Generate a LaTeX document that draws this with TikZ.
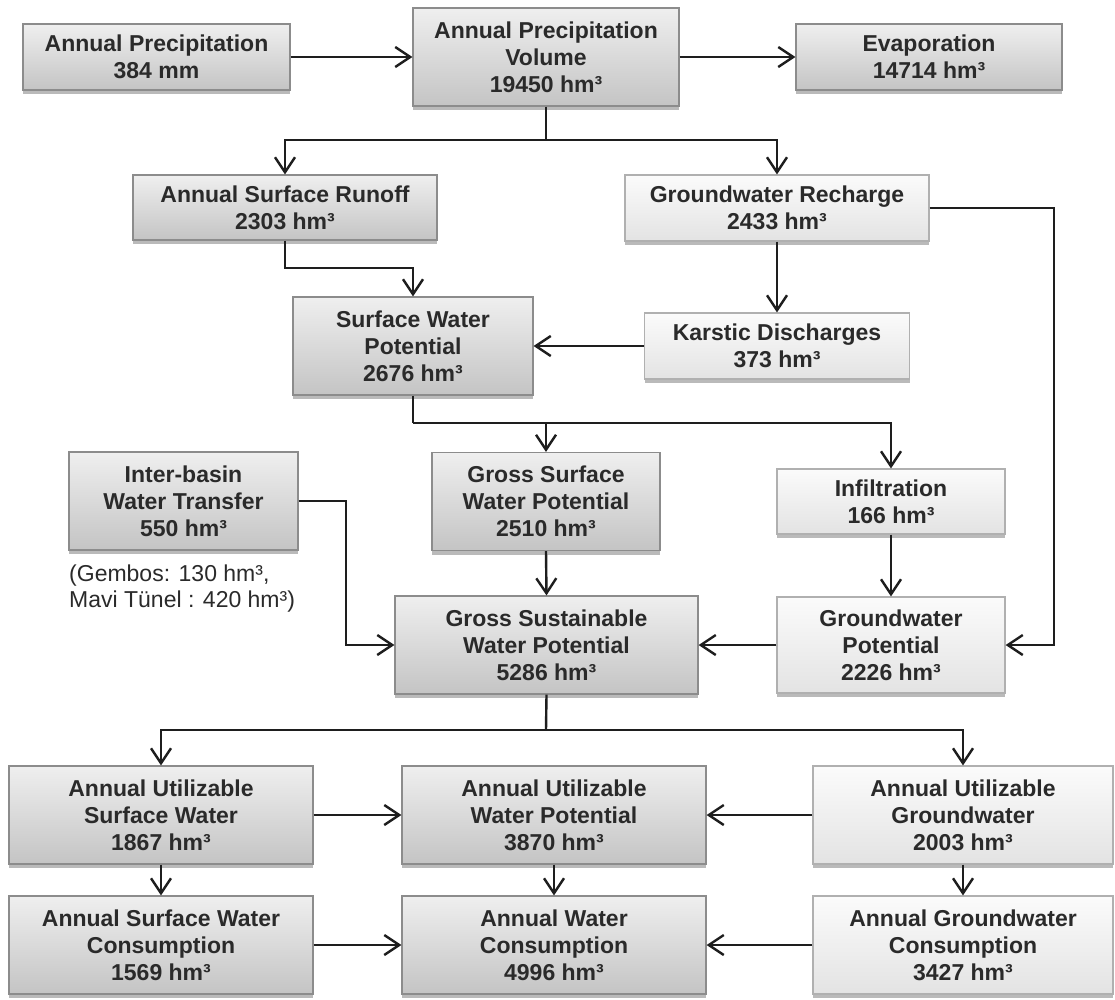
\documentclass[tikz,border=0pt]{standalone}
\usepackage{fontspec}
\setmainfont{Liberation Sans}
\usetikzlibrary{arrows.meta,shadows}
\definecolor{txt}{HTML}{2A2A2A}
\definecolor{dtop}{HTML}{EFEFEF}
\definecolor{dbot}{HTML}{C4C4C4}
\definecolor{ltop}{HTML}{FBFBFB}
\definecolor{lbot}{HTML}{E3E3E3}
\definecolor{dline}{HTML}{8C8C8C}
\definecolor{lline}{HTML}{B0B0B0}
\definecolor{lnk}{HTML}{1E1E1E}
\tikzset{
  basebox/.style={rectangle, inner sep=0pt, align=center, text=txt,
    font=\fontsize{23}{27}\selectfont\bfseries, line width=1.2pt,
    drop shadow={shadow xshift=0pt, shadow yshift=-4pt, fill=black!45, opacity=0.6}},
  dbox/.style={basebox, draw=dline, top color=dtop, bottom color=dbot},
  lbox/.style={basebox, draw=lline, top color=ltop, bottom color=lbot},
  arr/.style={draw=lnk, line width=2.4pt, -{Straight Barb[length=15pt,width=20pt]}},
  lin/.style={draw=lnk, line width=2.4pt},
}
\begin{document}
\begin{tikzpicture}[x=1pt,y=-1pt]
\useasboundingbox (0,0) rectangle (1115,999);
% top row
\node[dbox, minimum width=267pt, minimum height=66pt] (ap) at (156.5,57) {Annual Precipitation\\384 mm};
\node[dbox, minimum width=266pt, minimum height=98pt] (apv) at (546,57) {Annual Precipitation\\Volume\\19450 hm³};
\node[dbox, minimum width=266pt, minimum height=66pt] (ev) at (929,57) {Evaporation\\14714 hm³};
% second row
\node[dbox, minimum width=304pt, minimum height=65pt] (ro) at (285,207.5) {Annual Surface Runoff\\2303 hm³};
\node[lbox, minimum width=304pt, minimum height=66pt] (gr) at (777,208) {Groundwater Recharge\\2433 hm³};
% third row
\node[dbox, minimum width=240pt, minimum height=98pt] (swp) at (413,346) {Surface Water\\Potential\\2676 hm³};
\node[lbox, minimum width=265pt, minimum height=66pt] (kd) at (777,346) {Karstic Discharges\\373 hm³};
% fourth row
\node[dbox, minimum width=229pt, minimum height=98pt] (ib) at (183.5,501) {Inter-basin\\Water Transfer\\550 hm³};
\node[anchor=north west, inner sep=0pt, align=left, text=txt, font=\fontsize{23}{26}\selectfont] (note) at (69,565) {(Gembos: 130 hm³,\\Mavi Tünel : 420 hm³)};
\node[dbox, minimum width=228pt, minimum height=98pt] (gs) at (546,501.5) {Gross Surface\\Water Potential\\2510 hm³};
\node[lbox, minimum width=228pt, minimum height=65pt] (inf) at (891,501.5) {Infiltration\\166 hm³};
% fifth row
\node[dbox, minimum width=303pt, minimum height=98pt] (gsw) at (546.5,645) {Gross Sustainable\\Water Potential\\5286 hm³};
\node[lbox, minimum width=228pt, minimum height=96pt] (gwp) at (891,645) {Groundwater\\Potential\\2226 hm³};
% sixth row
\node[dbox, minimum width=304pt, minimum height=98pt] (usw) at (161,815) {Annual Utilizable\\Surface Water\\1867 hm³};
\node[dbox, minimum width=304pt, minimum height=98pt] (uwp) at (554,815) {Annual Utilizable\\Water Potential\\3870 hm³};
\node[lbox, minimum width=300pt, minimum height=98pt] (ug) at (963,815) {Annual Utilizable\\Groundwater\\2003 hm³};
% seventh row
\node[dbox, minimum width=304pt, minimum height=98pt] (sc) at (161,945) {Annual Surface Water\\Consumption\\1569 hm³};
\node[dbox, minimum width=304pt, minimum height=98pt] (wc) at (554,945) {Annual Water\\Consumption\\4996 hm³};
\node[lbox, minimum width=300pt, minimum height=98pt] (gc) at (963,945) {Annual Groundwater\\Consumption\\3427 hm³};
% junctions
\coordinate (j1) at (546,140);
\coordinate (j2) at (285,268);
\coordinate (j3) at (413,423);
\coordinate (j4) at (346,501);
\coordinate (j5) at (1054,208);
\coordinate (j6) at (546,730);
% connectors
\draw[arr] (ap.east) -- (apv.west);
\draw[arr] (apv.east) -- (ev.west);
\draw[lin] (apv.south) -- (j1);
\draw[arr] (j1) -| (ro.north);
\draw[arr] (j1) -| (gr.north);
\draw[arr] (ro.south) -- (j2) -| (swp.north);
\draw[arr] (gr.south) -- (kd.north);
\draw[arr] (kd.west) -- (kd.west -| swp.east);
\draw[lin] (swp.south) -- (j3);
\draw[arr] (j3) -| (gs.north);
\draw[arr] (j3) -| (inf.north);
\draw[arr] (gs.south) -- (gsw.north);
\draw[arr] (inf.south) -- (gwp.north);
\draw[arr] (ib.east) -- (j4) |- (gsw.west);
\draw[arr] (gwp.west) -- (gsw.east);
\draw[arr] (gr.east) -- (j5) |- (gwp.east);
\draw[lin] (gsw.south) -- (j6);
\draw[arr] (j6) -| (usw.north);
\draw[arr] (j6) -| (ug.north);
\draw[arr] (usw.east) -- (uwp.west);
\draw[arr] (ug.west) -- (uwp.east);
\draw[arr] (usw.south) -- (sc.north);
\draw[arr] (uwp.south) -- (wc.north);
\draw[arr] (ug.south) -- (gc.north);
\draw[arr] (sc.east) -- (wc.west);
\draw[arr] (gc.west) -- (wc.east);
\end{tikzpicture}
\end{document}
